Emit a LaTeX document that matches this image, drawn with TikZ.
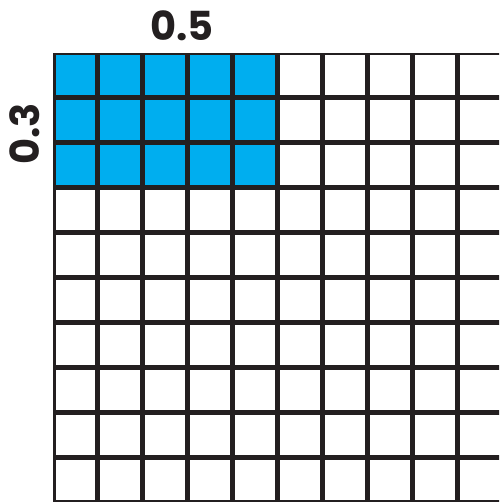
\documentclass[tikz,border=0pt]{standalone}
\usepackage{fontspec}
\setmainfont{Poppins}
\definecolor{cellblue}{RGB}{0,174,239}
\definecolor{gridline}{RGB}{35,31,32}
\begin{document}
\begin{tikzpicture}[x=1pt,y=-1pt,
  cell/.style={draw=gridline,line width=2.5pt},
  lbl/.style={font=\fontsize{40}{40}\selectfont\bfseries,text=gridline,inner sep=0pt}]
\useasboundingbox (0,0) rectangle (499,502);
\begin{scope}
\clip (0,0) rectangle (499,502);
\foreach \i in {0,...,9}{
  \foreach \j in {0,...,9}{
    \pgfmathsetmacro{\xa}{53+44.9*\i+1.25}
    \pgfmathsetmacro{\ya}{53+44.9*\j+1.25}
    \pgfmathsetmacro{\xb}{53+44.9*(\i+1)-1.25}
    \pgfmathsetmacro{\yb}{53+44.9*(\j+1)-1.25}
    \ifnum\i<5 \ifnum\j<3
      \fill[cellblue] (\xa,\ya) rectangle (\xb,\yb);
    \fi\fi
    \draw[cell] (\xa,\ya) rectangle (\xb,\yb);
  }
}
\end{scope}
\node[lbl] (top) at (182,25.5) {0.5};
\node[lbl,rotate=90] (left) at (25,134) {0.3};
\end{tikzpicture}
\end{document}
